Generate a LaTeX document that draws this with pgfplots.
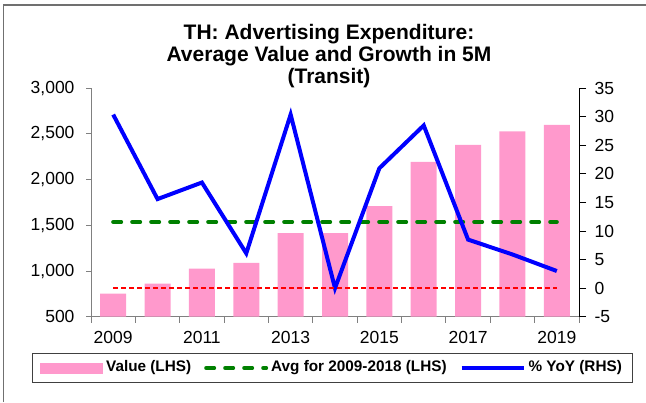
\documentclass[border=0pt]{standalone}
\usepackage{fontspec}
\setmainfont{Liberation Sans}
\usepackage{pgfplots}
\pgfplotsset{compat=1.18}
\definecolor{barpink}{HTML}{FF99CC}
\definecolor{avggreen}{HTML}{008000}
\definecolor{yoyblue}{HTML}{0000FF}
\definecolor{avgred}{HTML}{FF0000}
\definecolor{axgray}{HTML}{808080}
\definecolor{framegray}{HTML}{707070}
\begin{document}
\begin{tikzpicture}[x=1bp,y=1bp]
\path[use as bounding box] (0,0) rectangle (646,402);
\draw[framegray, line width=1.5bp] (3.3,0) -- (3.3,397) -- (646,397);
\node[align=center, anchor=north, inner sep=0pt, font=\bfseries\fontsize{21bp}{22bp}\selectfont] at (329,378) {TH: Advertising Expenditure:\\Average Value and Growth in 5M\\(Transit)};

\begin{axis}[
  at={(91bp,85.3bp)}, anchor=south west,
  scale only axis, width=488bp, height=228.4bp,
  xmin=-0.5, xmax=10.5, ymin=500, ymax=3000,
  axis x line*=bottom, axis y line*=left,
  every outer x axis line/.append style={-},
  every outer y axis line/.append style={-},
  axis line style={axgray, line width=1bp},
  tick align=outside,
  tick style={axgray, line width=1bp},
  xtick={0,2,4,6,8,10},
  xticklabels={2009,2011,2013,2015,2017,2019},
  major x tick style={draw=none},
  minor xtick={-0.5,0.5,1.5,2.5,3.5,4.5,5.5,6.5,7.5,8.5,9.5,10.5},
  minor tick length=6bp,
  major tick length=5bp,
  ytick={500,1000,1500,2000,2500,3000},
  yticklabels={500,{1,000},{1,500},{2,000},{2,500},{3,000}},
  ticklabel style={font=\fontsize{17.5bp}{20bp}\selectfont, text=black},
  yticklabel style={xshift=-8bp},
  xticklabel style={yshift=-6bp},
]
\addplot[ybar, bar width=26bp, fill=barpink, draw=none] coordinates {
  (0,752) (1,862) (2,1025) (3,1088) (4,1416) (5,1415)
  (6,1711) (7,2196) (8,2382) (9,2528) (10,2601)
};
\addplot[avggreen, line width=4bp, dash pattern=on 8bp off 11bp, line cap=round] coordinates {
  (0,1537) (10,1537)
};
\end{axis}

\begin{axis}[
  at={(91bp,85.3bp)}, anchor=south west,
  scale only axis, width=488bp, height=228.4bp,
  xmin=-0.5, xmax=10.5, ymin=-5, ymax=35,
  hide x axis,
  axis y line*=right,
  every outer y axis line/.append style={-},
  y axis line style={black, line width=1bp},
  tick align=outside,
  ytick style={black, line width=1bp},
  major tick length=7bp,
  ytick={-5,0,5,10,15,20,25,30,35},
  yticklabels={-5,0,5,10,15,20,25,30,35},
  ticklabel style={font=\fontsize{17.5bp}{20bp}\selectfont, text=black},
  yticklabel style={xshift=5bp},
  legend columns=3,
  legend cell align=left,
  legend style={
    at={(axis description cs:0.4949,-0.2246)}, anchor=center,
    draw=black!75, line width=1bp, fill=white,
    font=\bfseries\fontsize{15.3bp}{17bp}\selectfont,
    inner xsep=8bp, inner ysep=5bp,
    /tikz/every even column/.append style={column sep=10bp},
    nodes={inner xsep=3bp, text height=11bp, text depth=3.5bp},
  },
]
\addlegendimage{legend image code/.code={\fill[barpink] (0bp,-5bp) rectangle (62bp,5bp);}}
\addlegendimage{legend image code/.code={\draw[avggreen, line width=4bp, dash pattern=on 8bp off 11bp, line cap=round] (2bp,0bp) -- (62bp,0bp);}}
\addlegendimage{legend image code/.code={\draw[yoyblue, line width=4bp] (0bp,0bp) -- (62bp,0bp);}}
\addplot[yoyblue, line width=4bp, line join=miter, forget plot] coordinates {
  (0,30.4) (1,15.6) (2,18.5) (3,6.1) (4,30.4) (5,0.0)
  (6,21.0) (7,28.5) (8,8.5) (9,5.9) (10,3.0)
};
\addplot[avgred, line width=2bp, dash pattern=on 5bp off 3bp, forget plot] coordinates {
  (0,0) (10,0)
};
\legend{Value (LHS), Avg for 2009-2018 (LHS), \% YoY (RHS)}
\end{axis}
\end{tikzpicture}
\end{document}
